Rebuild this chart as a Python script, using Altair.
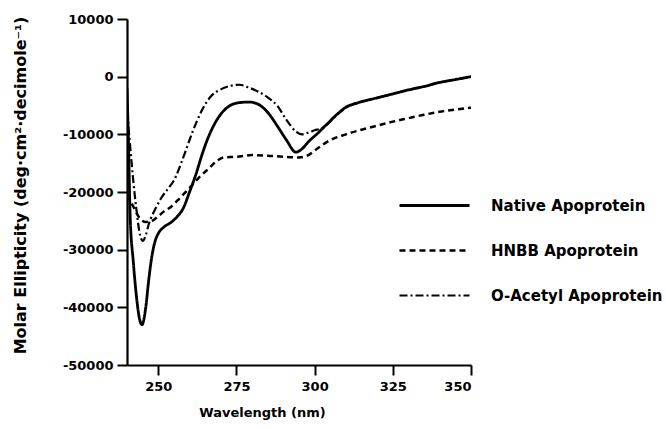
import altair as alt
import pandas as pd

series_names = ["Native  Apoprotein", "HNBB  Apoprotein", "O-Acetyl  Apoprotein"]

native_wl = [240, 240.5, 241, 242, 243, 244, 244.8, 246, 247, 248, 249, 250, 252, 254, 256, 258,
             260, 262, 264, 266, 268, 270, 273, 276, 279, 282, 285, 288, 291, 294, 296, 298,
             301, 304, 307, 310, 314, 319, 325, 330, 335, 340, 345, 350]
native_val = [-2000, -12000, -24000, -32000, -38000, -42000, -43000, -40000, -35000, -31000, -28500,
              -27200, -26000, -25300, -24300, -22800, -20000, -17000, -13500, -10500, -8200, -6500,
              -5000, -4500, -4400, -4800, -6200, -8500, -11000, -13100, -12500, -11300, -9800,
              -8200, -6600, -5300, -4500, -3800, -3000, -2300, -1700, -1000, -500, 0]

hnbb_wl = [240, 242, 244, 246, 248, 250, 252, 254, 257, 260, 263, 266, 269, 271, 275, 280, 285,
           290, 295, 298, 301, 305, 310, 315, 320, 325, 330, 335, 340, 345, 350]
hnbb_val = [-20500, -22500, -24500, -25200, -25000, -24200, -23300, -22600, -21000, -19300,
            -17500, -16000, -14500, -14000, -13900, -13600, -13700, -13900, -14000, -13600,
            -12400, -11000, -10000, -9200, -8500, -7800, -7200, -6600, -6100, -5700, -5400]

oacetyl_wl = [240, 241, 242, 243, 244, 245, 246, 247, 249, 251, 253, 255, 258, 261, 264, 267,
              270, 273, 276, 279, 282, 285, 288, 291, 294, 296, 298, 300, 302, 304, 307, 310,
              314, 319, 325, 330, 335, 340, 345, 350]
oacetyl_val = [-6000, -12000, -18000, -23000, -27000, -28500, -27500, -25500, -23000, -21000,
               -19500, -18000, -14000, -9500, -5800, -3300, -2200, -1600, -1400, -1900, -2600,
               -3600, -5000, -7500, -9500, -10000, -9700, -9300, -9000, -8300, -6700, -5400,
               -4500, -3800, -3000, -2300, -1700, -1000, -500, 0]

x_ticks = [250, 275, 300, 325, 350]
y_ticks = [10000, 0, -10000, -20000, -30000, -40000, -50000]

rows = []
for name, wls, vals in zip(series_names,
                           [native_wl, hnbb_wl, oacetyl_wl],
                           [native_val, hnbb_val, oacetyl_val]):
    for i, (w, v) in enumerate(zip(wls, vals)):
        rows.append({"series": name, "wl": w, "val": v, "order": i})
df = pd.DataFrame(rows)

FONT = "DejaVu Sans"

common_axis = dict(grid=False, domainColor="black", domainWidth=2.2, tickColor="black",
                   tickWidth=2, labelFont=FONT, labelFontWeight="bold", labelColor="black",
                   titleFont=FONT, titleFontWeight="bold", titleColor="black",
                   labelFontSize=13)

chart = alt.Chart(df).mark_line(color="black", interpolate="monotone", clip=True).encode(
    x=alt.X("wl:Q",
            scale=alt.Scale(domain=[240, 350], nice=False, zero=False),
            axis=alt.Axis(values=x_ticks, title="Wavelength  (nm)",
                          tickSize=10, labelPadding=5,
                          titleFontSize=13, titleX=135, titleY=47,
                          titleBaseline="middle", **common_axis)),
    y=alt.Y("val:Q",
            scale=alt.Scale(domain=[-50000, 10000], nice=False, zero=False),
            axis=alt.Axis(values=y_ticks, title="Molar  Ellipticity  (deg·cm²·decimole⁻¹)",
                          tickSize=10, labelPadding=4,
                          labelExpr="datum.value + ''",
                          titleFontSize=16, titleX=-107, titleY=166,
                          titleBaseline="middle", **common_axis)),
    strokeDash=alt.StrokeDash("series:N",
                              scale=alt.Scale(domain=series_names,
                                              range=[[1, 0], [6, 4], [8, 3, 2, 3]]),
                              legend=alt.Legend(title=None, orient="none",
                                                legendX=271, legendY=150,
                                                symbolType="stroke", symbolSize=4900,
                                                symbolStrokeWidth=2.2, symbolStrokeColor="black",
                                                labelFont=FONT, labelFontSize=15,
                                                labelFontWeight="bold", labelOffset=20,
                                                rowPadding=-9, labelLimit=300)),
    strokeWidth=alt.StrokeWidth("series:N",
                                scale=alt.Scale(domain=series_names, range=[2.8, 2.2, 2.2]),
                                legend=None),
    order="order:Q",
).properties(
    width=344, height=346,
    background="white",
    autosize=alt.AutoSizeParams(type="none"),
    padding={"left": 127, "top": 19, "right": 195, "bottom": 64},
).configure_view(stroke=None)

chart.save("out.html", embed_options={"renderer": "svg", "actions": False})
